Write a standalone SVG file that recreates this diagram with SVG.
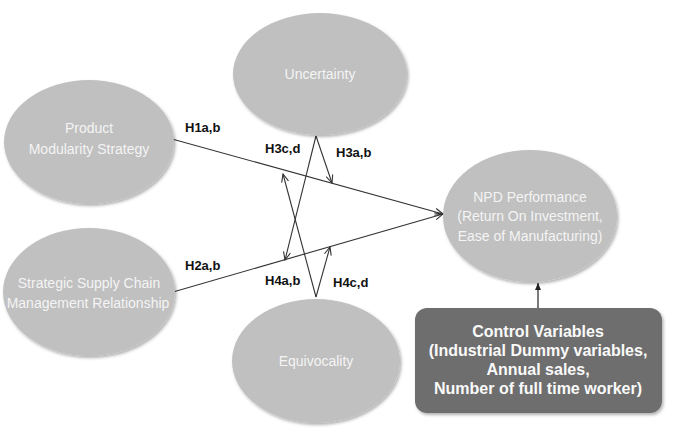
<svg xmlns="http://www.w3.org/2000/svg" width="682" height="431" viewBox="0 0 682 431">
<style>
.node{fill:#c0c0c0;filter:url(#sh)}
.nt{font-family:"Liberation Sans",Arial,sans-serif;font-size:14px;fill:#f4f4f4;text-anchor:middle}
.lbl{font-family:"Liberation Sans",Arial,sans-serif;font-size:13px;font-weight:bold;fill:#111}
.ct{font-family:"Liberation Sans",Arial,sans-serif;font-size:16px;font-weight:bold;fill:#fafafa;text-anchor:middle}
.ln{stroke:#333;stroke-width:1.1;fill:none;marker-end:url(#ah)}
</style>
<defs>
<filter id="sh" x="-10%" y="-10%" width="125%" height="125%">
<feDropShadow dx="1.5" dy="2" stdDeviation="1.5" flood-color="#000" flood-opacity="0.3"/>
</filter>
<marker id="ah" markerWidth="10" markerHeight="8" refX="9" refY="4" orient="auto" markerUnits="userSpaceOnUse">
<path d="M1,0.5 L9,4 L1,7.5" fill="none" stroke="#333" stroke-width="1.1"/>
</marker>
<marker id="fa" markerWidth="8" markerHeight="8" refX="7" refY="4" orient="auto" markerUnits="userSpaceOnUse">
<path d="M0,1 L7,4 L0,7 Z" fill="#222"/>
</marker>
</defs>
<rect width="682" height="431" fill="#fff"/>
<g id="connectors">
<line class="ln" x1="172" y1="139" x2="443" y2="214"/>
<line class="ln" x1="173" y1="292" x2="443" y2="214"/>
<line class="ln" x1="316" y1="136" x2="285" y2="260"/>
<line class="ln" x1="316" y1="136" x2="332" y2="183"/>
<line class="ln" x1="316" y1="297" x2="283" y2="174"/>
<line class="ln" x1="316" y1="297" x2="330" y2="247"/>
<line x1="538" y1="308" x2="538" y2="283" stroke="#333" stroke-width="1.3" marker-end="url(#fa)"/>
</g>
<g id="labels">
<text class="lbl" x="185" y="132">H1a,b</text>
<text class="lbl" x="265" y="153">H3c,d</text>
<text class="lbl" x="336" y="157">H3a,b</text>
<text class="lbl" x="185" y="270">H2a,b</text>
<text class="lbl" x="265" y="285">H4a,b</text>
<text class="lbl" x="333" y="287">H4c,d</text>
</g>
<g id="product">
<ellipse class="node" cx="89" cy="142" rx="85" ry="62"/>
<text class="nt" x="89" y="133">Product</text>
<text class="nt" x="89" y="154">Modularity Strategy</text>
</g>
<g id="supply">
<ellipse class="node" cx="89" cy="292" rx="86" ry="64"/>
<text class="nt" x="89" y="288">Strategic Supply Chain</text>
<text class="nt" x="88" y="308">Management Relationship</text>
</g>
<g id="uncertainty">
<ellipse class="node" cx="320" cy="74" rx="87" ry="61"/>
<text class="nt" x="320" y="79">Uncertainty</text>
</g>
<g id="equivocality">
<ellipse class="node" cx="316" cy="361" rx="84" ry="62"/>
<text class="nt" x="316" y="366">Equivocality</text>
</g>
<g id="npd">
<ellipse class="node" cx="530" cy="216" rx="87" ry="66"/>
<text class="nt" x="530" y="202">NPD Performance</text>
<text class="nt" x="530" y="221">(Return On Investment,</text>
<text class="nt" x="530" y="241">Ease of Manufacturing)</text>
</g>
<g id="control">
<rect x="415" y="308" width="247" height="105" rx="12" fill="#6e6e6e" filter="url(#sh)"/>
<text class="ct" x="538" y="337">Control Variables</text>
<text class="ct" x="538" y="356">(Industrial Dummy variables,</text>
<text class="ct" x="538" y="375">Annual sales,</text>
<text class="ct" x="538" y="394">Number of full time worker)</text>
</g>
</svg>
